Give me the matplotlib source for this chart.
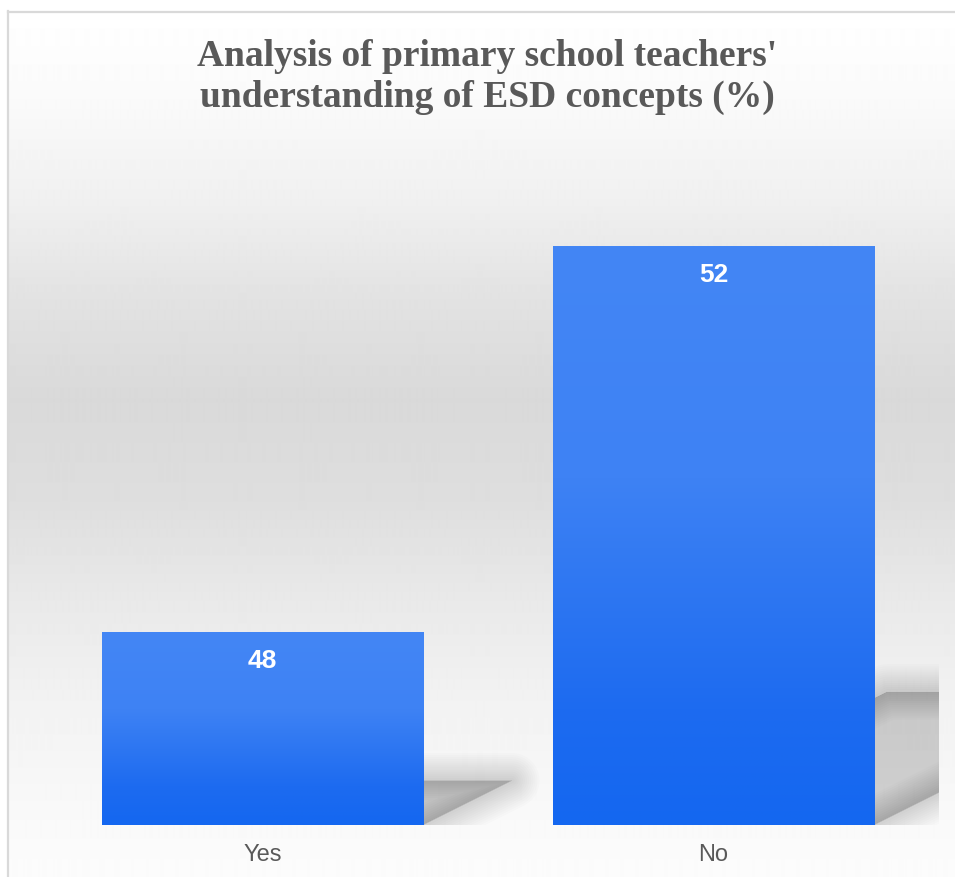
import matplotlib.pyplot as plt
import numpy as np
from matplotlib.colors import LinearSegmentedColormap
from matplotlib.patches import Polygon
from matplotlib.lines import Line2D

categories = ['Yes', 'No']
values = [48, 52]
title = "Analysis of primary school teachers'\nunderstanding of ESD concepts (%)"

W, H = 955, 877
fig = plt.figure(figsize=(W / 100, H / 100), dpi=100)
fig.patch.set_facecolor('white')

# background: soft vertical gray gradient inside the frame
bg = fig.add_axes([7 / W, 0, 1 - 7 / W, 1 - 11 / H], zorder=-2)
rows = np.arange(11, H)
stops_y = [11, 100, 200, 300, 400, 500, 600, 700, 800, 877]
stops_v = [255, 250, 240, 226, 217, 222, 233, 242, 248, 252]
shade = np.interp(rows, stops_y, stops_v) / 255.0
bg.imshow(np.repeat(shade[:, None], 2, axis=1), cmap='gray', vmin=0, vmax=1,
          aspect='auto', extent=[0, 1, 0, 1], interpolation='bilinear')
bg.axis('off')
fig.add_artist(Line2D([7.5 / W, 7.5 / W], [0, 1 - 11 / H], color='#d9d9d9', lw=1.6))
fig.add_artist(Line2D([7.5 / W, 1], [1 - 11.5 / H, 1 - 11.5 / H], color='#d9d9d9', lw=1.6))

ax = fig.add_axes([37 / W, 52 / H, (939 - 37) / W, (825 - 150) / H])
ax.patch.set_alpha(0)
ymin, ymax = 46, 53
x = np.arange(len(categories))
width = 0.712

bars = ax.bar(x, [v - ymin for v in values], width, bottom=ymin, color='none', zorder=3)

bar_cmap = LinearSegmentedColormap.from_list(
    'barblue', [(0, '#4386f5'), (0.4, '#3e82f4'), (0.8, '#1d6bf0'), (1, '#1467f0')])
grad = np.linspace(0, 1, 256)[:, None]
for b, v in zip(bars, values):
    x0, x1 = b.get_x(), b.get_x() + b.get_width()
    im = ax.imshow(grad, cmap=bar_cmap, aspect='auto', extent=[x0, x1, ymin, v],
                   origin='upper', zorder=3, interpolation='bilinear')
    im.set_clip_path(b)

    # blurred sheared drop shadow behind the bar
    hs = 0.23 * (v - ymin)
    dx = 2 * hs * (96.5 / 451)
    sx0 = x0 + 0.15
    verts = [(sx0, ymin), (x1, ymin), (x1 + dx, ymin + hs), (sx0 + dx, ymin + hs)]
    for lw in np.linspace(40, 1, 14):
        ax.add_patch(Polygon(verts, closed=True, fc='black', ec='black', lw=lw,
                             alpha=0.013, joinstyle='round', zorder=1))

    ax.text(b.get_x() + b.get_width() / 2, v - 0.3, str(v), ha='center', va='center',
            color='white', fontsize=19, fontweight='bold', family='Liberation Sans', zorder=4)

ax.set_xlim(-0.5, 1.5)
ax.set_ylim(ymin, ymax)
ax.set_xticks(x)
ax.set_xticklabels(categories, fontsize=17, color='#595959', family='Liberation Sans')
ax.tick_params(axis='x', length=0, pad=14)
ax.set_yticks([])
for s in ax.spines.values():
    s.set_visible(False)

fig.text(487 / W, 1 - 77 / H, title, ha='center', va='center', fontsize=27,
         fontweight='bold', family='Liberation Serif', color='#595959', linespacing=1.25)

plt.savefig('out.png', dpi=100)
